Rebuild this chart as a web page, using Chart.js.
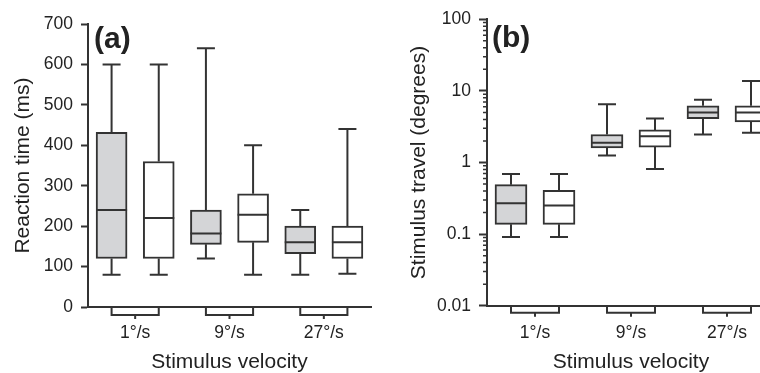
<!DOCTYPE html>
<html>
<head>
<meta charset="utf-8">
<script src="https://cdn.jsdelivr.net/npm/chart.js@4.4.0/dist/chart.umd.min.js"></script>
<style>
  html, body { margin: 0; padding: 0; background: #fff; overflow: hidden; }
  #wrap { position: relative; width: 760px; height: 373px; overflow: hidden; }
  .panel { position: absolute; top: 0; }
  #panelA { left: 0; }
  #panelB { left: 380px; }
</style>
</head>
<body>
<div id="wrap">
  <div class="panel" id="panelA"><canvas id="chartA" width="380" height="373"></canvas></div>
  <div class="panel" id="panelB"><canvas id="chartB" width="400" height="373"></canvas></div>
</div>
<script>
const lineColor = '#333333'
const textColor = '#222222'
const greyFill = '#d4d5d7'
const whiteFill = '#ffffff'
const fontFamily = "'Liberation Sans', Arial, sans-serif"

const velocities = ['1°/s', '9°/s', '27°/s']

// box order: 1°/s grey, 1°/s white, 9°/s grey, 9°/s white, 27°/s grey, 27°/s white
// (a) reaction time, ms
const rtMin = [80, 80, 120, 80, 80, 82]
const rtQ1 = [120, 120, 155, 160, 132, 120]
const rtMed = [240, 220, 182, 228, 160, 160]
const rtQ3 = [432, 360, 240, 280, 200, 200]
const rtMax = [600, 600, 640, 400, 240, 440]
const rtTicks = [0, 100, 200, 300, 400, 500, 600, 700]

// (b) stimulus travel, degrees (log axis)
const travelMin = [0.091, 0.091, 1.25, 0.81, 2.46, 2.6]
const travelQ1 = [0.137, 0.137, 1.6, 1.64, 4.1, 3.7]
const travelMed = [0.27, 0.25, 1.88, 2.33, 5.0, 5.0]
const travelQ3 = [0.49, 0.41, 2.46, 2.85, 6.2, 6.2]
const travelMax = [0.69, 0.69, 6.5, 4.1, 7.5, 13.7]
const travelTicks = [0.01, 0.1, 1, 10, 100]

Chart.defaults.font.family = fontFamily
Chart.defaults.color = textColor

// whiskers, medians, brackets under the x axis, panel letter
function boxPlotPlugin(lo, q1, med, q3, hi, capWidth) {
	return {
		id: 'boxplot',
		beforeDatasetsDraw(chart) {
			const ctx = chart.ctx
			const x = chart.scales.x
			const y = chart.scales.y
			ctx.save()
			ctx.strokeStyle = lineColor
			ctx.lineWidth = 2
			ctx.beginPath()
			for (let i = 0; i < med.length; i++) {
				const cx = x.getPixelForValue(i + 0.5)
				const yHi = y.getPixelForValue(hi[i])
				const yLo = y.getPixelForValue(lo[i])
				ctx.moveTo(cx, yHi)
				ctx.lineTo(cx, y.getPixelForValue(q3[i]))
				ctx.moveTo(cx, y.getPixelForValue(q1[i]))
				ctx.lineTo(cx, yLo)
				ctx.moveTo(cx - capWidth / 2, yHi)
				ctx.lineTo(cx + capWidth / 2, yHi)
				ctx.moveTo(cx - capWidth / 2, yLo)
				ctx.lineTo(cx + capWidth / 2, yLo)
			}
			ctx.stroke()
			ctx.restore()
		},
		afterDatasetsDraw(chart) {
			const ctx = chart.ctx
			const y = chart.scales.y
			const bars = chart.getDatasetMeta(0).data
			ctx.save()
			ctx.strokeStyle = lineColor
			ctx.lineWidth = 2
			ctx.beginPath()
			for (let i = 0; i < bars.length; i++) {
				const ym = y.getPixelForValue(med[i])
				ctx.moveTo(bars[i].x - bars[i].width / 2, ym)
				ctx.lineTo(bars[i].x + bars[i].width / 2, ym)
			}
			ctx.stroke()
			ctx.restore()
		},
		afterDraw(chart, args, opts) {
			const ctx = chart.ctx
			const x = chart.scales.x
			const y = chart.scales.y
			const area = chart.chartArea
			ctx.save()
			ctx.strokeStyle = lineColor
			ctx.lineWidth = 2
			ctx.beginPath()
			const y0 = area.bottom
			const y1 = y0 + opts.bracketDepth
			for (let g = 0; g < velocities.length; g++) {
				const xl = x.getPixelForValue(2 * g + 0.5)
				const xr = x.getPixelForValue(2 * g + 1.5)
				const xc = x.getPixelForValue(2 * g + 1)
				ctx.moveTo(xl, y0)
				ctx.lineTo(xl, y1)
				ctx.lineTo(xr, y1)
				ctx.lineTo(xr, y0)
				ctx.moveTo(xc, y1)
				ctx.lineTo(xc, y1 + 4)
			}
			ctx.stroke()

			// minor ticks on the log axis
			if (y.type === 'logarithmic') {
				ctx.lineWidth = 1.5
				ctx.beginPath()
				for (let d = 0; d < travelTicks.length - 1; d++) {
					for (let m = 2; m <= 9; m++) {
						const yy = y.getPixelForValue(m * travelTicks[d])
						ctx.moveTo(area.left - 4, yy)
						ctx.lineTo(area.left, yy)
					}
				}
				ctx.stroke()
			}

			ctx.fillStyle = textColor
			ctx.font = 'bold 30px ' + fontFamily
			ctx.textBaseline = 'alphabetic'
			ctx.fillText(opts.label, opts.labelX, opts.labelY)
			ctx.restore()
		}
	}
}

function makeChart(canvasId, cfg) {
	const fills = cfg.q1.map((v, i) => (i % 2 === 0 ? greyFill : whiteFill))
	const points = cfg.q1.map((v, i) => ({ x: i + 0.5, y: [cfg.q1[i], cfg.q3[i]] }))
	return new Chart(document.getElementById(canvasId), {
		type: 'bar',
		data: {
			datasets: [{
				data: points,
				backgroundColor: fills,
				borderColor: lineColor,
				borderWidth: 2,
				borderSkipped: false,
				barThickness: cfg.boxWidth
			}]
		},
		options: {
			responsive: false,
			animation: false,
			events: [],
			layout: { padding: cfg.padding },
			plugins: {
				legend: { display: false },
				tooltip: { enabled: false },
				boxplot: cfg.labelOpts
			},
			scales: {
				x: {
					type: 'linear',
					min: 0,
					max: 6,
					offset: false,
					grid: { display: false, drawTicks: false, offset: false },
					border: { display: true, color: lineColor, width: 2 },
					afterBuildTicks: (scale) => {
						scale.ticks = velocities.map((v, i) => ({ value: 2 * i + 1 }))
					},
					ticks: {
						padding: cfg.xTickPad,
						font: { size: 17.5 },
						color: textColor,
						callback: (value) => velocities[(value - 1) / 2]
					},
					title: {
						display: true,
						text: 'Stimulus velocity',
						font: { size: 21, lineHeight: 1 },
						color: textColor,
						padding: { top: 0, bottom: 0.5 }
					},
					afterFit: (scale) => { scale.height = cfg.xHeight }
				},
				y: cfg.yScale
			}
		},
		plugins: [boxPlotPlugin(cfg.lo, cfg.q1, cfg.med, cfg.q3, cfg.hi, 18)]
	})
}

makeChart('chartA', {
	lo: rtMin, q1: rtQ1, med: rtMed, q3: rtQ3, hi: rtMax,
	boxWidth: 31,
	padding: { left: 0, top: 24, right: 9, bottom: 0 },
	xHeight: 66,
	xTickPad: 15.5,
	labelOpts: { label: '(a)', labelX: 94, labelY: 48, bracketDepth: 8 },
	yScale: {
		type: 'linear',
		min: 0,
		max: 700,
		afterBuildTicks: (scale) => {
			scale.ticks = rtTicks.map(v => ({ value: v }))
		},
		grid: { display: true, drawOnChartArea: false, drawTicks: true, tickLength: 7, tickColor: lineColor, tickWidth: 2 },
		border: { display: true, color: lineColor, width: 2 },
		ticks: { padding: 8, font: { size: 17.5 }, color: textColor },
		title: {
			display: true,
			text: 'Reaction time (ms)',
			font: { size: 21, lineHeight: 1 },
			color: textColor,
			padding: { top: 12.5, bottom: 0 }
		},
		afterFit: (scale) => { scale.width = 88 }
	}
})

makeChart('chartB', {
	lo: travelMin, q1: travelQ1, med: travelMed, q3: travelQ3, hi: travelMax,
	boxWidth: 32,
	padding: { left: 0, top: 19.3, right: 5, bottom: 0 },
	xHeight: 67.3,
	xTickPad: 16.8,
	labelOpts: { label: '(b)', labelX: 112, labelY: 47, bracketDepth: 7 },
	yScale: {
		type: 'logarithmic',
		min: 0.01,
		max: 100,
		afterBuildTicks: (scale) => {
			scale.ticks = travelTicks.map(v => ({ value: v }))
		},
		grid: { display: true, drawOnChartArea: false, drawTicks: true, tickLength: 8, tickColor: lineColor, tickWidth: 2 },
		border: { display: true, color: lineColor, width: 2 },
		ticks: {
			padding: 8,
			font: { size: 17.5 },
			color: textColor,
			callback: (value) => String(value)
		},
		title: {
			display: true,
			text: 'Stimulus travel (degrees)',
			font: { size: 21, lineHeight: 1 },
			color: textColor,
			padding: { top: 29, bottom: 0 }
		},
		afterFit: (scale) => { scale.width = 107 }
	}
})
</script>
</body>
</html>
